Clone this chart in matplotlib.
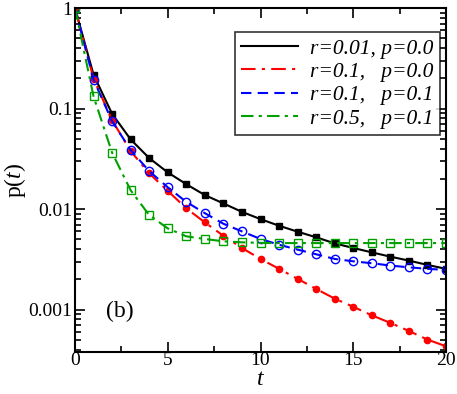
import numpy as np
import matplotlib
matplotlib.use("Agg")
import matplotlib.pyplot as plt
from matplotlib.ticker import LogLocator, MultipleLocator, FixedLocator, FixedFormatter, NullFormatter

plt.rcParams['font.family'] = 'Liberation Serif'
plt.rcParams['mathtext.fontset'] = 'custom'
plt.rcParams['mathtext.rm'] = 'Liberation Serif'
plt.rcParams['mathtext.it'] = 'Liberation Serif:italic'

t = np.arange(21)

# r=0.01, p=0.0
p_black = [1.0, 0.217, 0.0887, 0.0493, 0.0322, 0.0232, 0.0177, 0.0138, 0.0114, 0.0094, 0.00796,
           0.00684, 0.00597, 0.00525, 0.00457, 0.00411, 0.00372, 0.00337, 0.00308, 0.00279, 0.00255]
# r=0.1, p=0.0
p_red = [1.0, 0.198, 0.0766, 0.0378, 0.0227, 0.0152, 0.0102, 0.00738, 0.00544, 0.00411, 0.0032,
         0.00255, 0.00203, 0.00161, 0.00129, 0.00107, 0.00088, 0.00074, 0.000615, 0.000505, 0.000433]
# r=0.1, p=0.1
p_blue = [1.0, 0.194, 0.0749, 0.0387, 0.0239, 0.0165, 0.0118, 0.00912, 0.00716, 0.00601, 0.00505,
          0.00443, 0.00396, 0.00356, 0.0032, 0.00303, 0.0029, 0.00275, 0.00264, 0.00255, 0.00249]
# r=0.5, p=0.1
p_green = [1.0, 0.132, 0.0364, 0.0154, 0.00873, 0.00644, 0.00537, 0.00505, 0.00479, 0.00468, 0.00462,
           0.0046, 0.0046, 0.0046, 0.0046, 0.0046, 0.0046, 0.0046, 0.0046, 0.0046, 0.0046]

labels = [r"r=0.01, p=0.0", r"r=0.1,   p=0.0", r"r=0.1,   p=0.1", r"r=0.5,   p=0.1"]

fig = plt.figure(figsize=(4.57, 3.94), dpi=100)
ax = fig.add_axes([75/457, 1-352/394, (446-75)/457, (352-8)/394])

ax.plot(t, p_black, color='black', lw=1.5, marker='s', ms=4.5, mfc='black', mec='black',
        label=labels[0])
ax.plot(t, p_red, color='red', lw=1.5, dashes=(7, 3, 1.5, 3), marker='o', ms=4.5, mfc='red', mec='red',
        label=labels[1])
ax.plot(t, p_blue, color='blue', lw=1.5, dashes=(5, 3), marker='o', ms=6, mfc='none', mec='blue',
        label=labels[2])
ax.plot(t, p_green, color='#00a000', lw=1.5, dashes=(6, 2.5, 1.5, 2.5), marker='s', ms=5.5, mfc='none',
        mec='#00a000', label=labels[3])

ax.set_yscale('log')
ax.set_xlim(0, 20)
ax.set_ylim(3.8e-4, 1.0)

ax.xaxis.set_major_locator(MultipleLocator(5))
ax.xaxis.set_minor_locator(MultipleLocator(2.5))
ax.yaxis.set_major_locator(FixedLocator([0.001, 0.01, 0.1, 1]))
ax.yaxis.set_major_formatter(FixedFormatter(["0.001", "0.01", "0.1", "1"]))
ax.yaxis.set_minor_locator(LogLocator(base=10, subs=np.arange(2, 10)))
ax.yaxis.set_minor_formatter(NullFormatter())

ax.tick_params(which='both', direction='in', top=True, right=True, labelsize=14, width=1.2)
ax.tick_params(which='major', length=7)
ax.tick_params(axis='x', which='major', pad=0)
ax.tick_params(axis='y', which='major', pad=2)
ax.tick_params(which='minor', length=4)
for s in ax.spines.values():
    s.set_linewidth(1.5)

ax.set_xlabel(r"$t$", fontsize=17)
ax.set_ylabel(r"p($t$)", fontsize=17)
ax.xaxis.set_label_coords(0.5, -0.05)
ax.yaxis.set_label_coords(-0.128, 0.5)

ax.text(120/457, 1-311/394, "(b)", fontsize=17, ha='center', va='center', transform=fig.transFigure)

leg = ax.legend(loc='upper right', bbox_to_anchor=(0.984, 0.93), frameon=True, fancybox=False,
                edgecolor='black', handlelength=2.65, borderpad=0.3, borderaxespad=0,
                labelspacing=0.15, handletextpad=0.55,
                prop={'style': 'italic', 'size': 15.5})
leg.get_frame().set_linewidth(1.2)
for h in leg.legend_handles:
    h.set_marker('')

fig.savefig("out.png", dpi=100)
